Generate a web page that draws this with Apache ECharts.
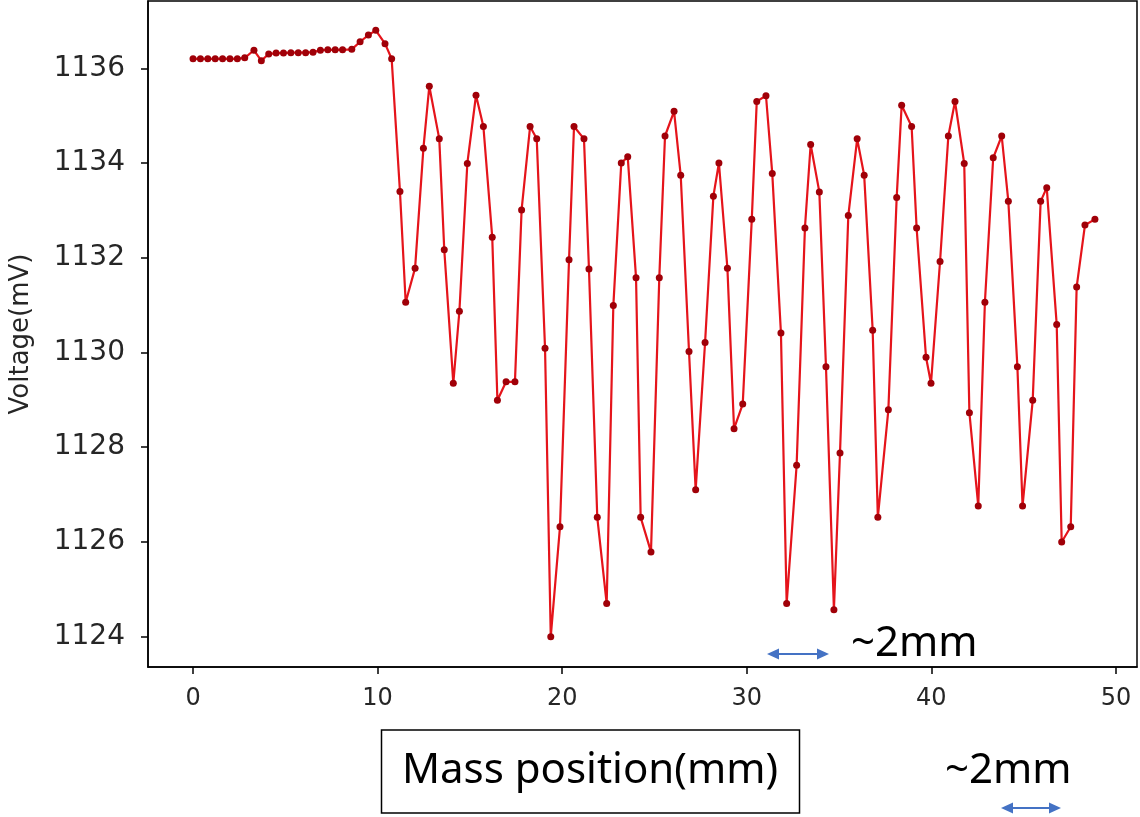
<!DOCTYPE html>
<html>
<head>
<meta charset="utf-8">
<script src="https://cdn.jsdelivr.net/npm/echarts@6/dist/echarts.min.js"></script>
<style>
html,body{margin:0;padding:0;background:#fff;}
#chart{width:1140px;height:817px;}
</style>
</head>
<body>
<div id="chart"></div>
<script>
// Mass position (mm)
const positions = [
  0.0, 0.4, 0.8, 1.2, 1.6, 2.0, 2.4, 2.8, 3.3, 3.7, 4.1, 4.5, 4.9, 5.3, 5.7, 6.1, 6.5, 6.9, 7.3, 7.7, 8.1, 8.6, 9.05, 9.5, 9.9, 10.4, 10.76,
  11.21, 11.52, 12.03, 12.48, 12.80, 13.34, 13.61, 14.10, 14.43, 14.86, 15.33, 15.73, 16.21, 16.49, 16.96, 17.44,
  17.80, 18.26, 18.62, 19.07, 19.38, 19.88, 20.37, 20.64, 21.18, 21.45, 21.90, 22.41, 22.77, 23.20, 23.55, 24.00,
  24.25, 24.81, 25.26, 25.57, 26.06, 26.42, 26.87, 27.23, 27.74, 28.19, 28.49, 28.95, 29.31, 29.78, 30.27, 30.54,
  31.04, 31.38, 31.85, 32.16, 32.70, 33.15, 33.46, 33.93, 34.29, 34.72, 35.05, 35.50, 35.98, 36.36, 36.82, 37.10,
  37.67, 38.12, 38.39, 38.93, 39.20, 39.71, 39.98, 40.47, 40.92, 41.28, 41.78, 42.06, 42.54, 42.90, 43.35, 43.81,
  44.17, 44.66, 44.94, 45.49, 45.92, 46.25, 46.79, 47.06, 47.55, 47.87, 48.32, 48.86
];
// Voltage (mV)
const voltages = [
  1136.2, 1136.2, 1136.2, 1136.2, 1136.2, 1136.2, 1136.2, 1136.22, 1136.38, 1136.16, 1136.3, 1136.32, 1136.32, 1136.33, 1136.33, 1136.33, 1136.34, 1136.38, 1136.39, 1136.39, 1136.39, 1136.4, 1136.56, 1136.7, 1136.8, 1136.52, 1136.2,
  1133.40, 1131.06, 1131.78, 1134.31, 1135.62, 1134.51, 1132.17, 1129.35, 1130.87, 1133.99, 1135.43, 1134.77, 1132.43, 1128.99, 1129.38, 1129.38,
  1133.01, 1134.77, 1134.51, 1130.09, 1124.00, 1126.32, 1131.96, 1134.77, 1134.51, 1131.76, 1126.52, 1124.70, 1130.99, 1134.00, 1134.13, 1131.58,
  1126.52, 1125.79, 1131.58, 1134.57, 1135.09, 1133.74, 1130.02, 1127.10, 1130.21, 1133.30, 1134.00, 1131.78, 1128.39, 1128.91, 1132.81, 1135.30,
  1135.42, 1133.78, 1130.41, 1124.70, 1127.62, 1132.63, 1134.39, 1133.39, 1129.70, 1124.57, 1127.88, 1132.89, 1134.51, 1133.74, 1130.47, 1126.52,
  1128.79, 1133.27, 1135.22, 1134.77, 1132.63, 1129.90, 1129.35, 1131.92, 1134.57, 1135.30, 1133.99, 1128.73, 1126.76, 1131.06, 1134.11, 1134.57,
  1133.19, 1129.70, 1126.76, 1128.99, 1133.19, 1133.48, 1130.59, 1126.00, 1126.32, 1131.38, 1132.69, 1132.81
];
const xTicks = [0, 10, 20, 30, 40, 50];
const yTicks = [1124, 1126, 1128, 1130, 1132, 1134, 1136];
const yAxisTitle = 'Voltage(mV)';
const xAxisTitle = 'Mass position(mm)';
const spanNote = '~2mm';

const seriesData = positions.map((x, i) => [x, voltages[i]]);

const chart = echarts.init(document.getElementById('chart'), null, {renderer: 'canvas'});
const tickFont = 'DejaVu Sans';
const noteFont = 'Noto Sans';
const blue = '#4472C4';

function arrow(x1, x2, y) {
  const h = 12, w = 5.5;
  return [
    {type: 'line', shape: {x1: x1 + 4, y1: y, x2: x2 - 4, y2: y}, style: {stroke: blue, lineWidth: 2}},
    {type: 'polygon', shape: {points: [[x1, y], [x1 + h, y - w], [x1 + h, y + w]]}, style: {fill: blue}},
    {type: 'polygon', shape: {points: [[x2, y], [x2 - h, y - w], [x2 - h, y + w]]}, style: {fill: blue}}
  ];
}

chart.setOption({
  animation: false,
  backgroundColor: '#fff',
  grid: {left: 148, top: 1, right: 3, bottom: 150, show: true, borderColor: '#000', borderWidth: 1.5, backgroundColor: 'transparent'},
  xAxis: {
    type: 'value', min: -2.44, max: 51.14,
    axisLine: {show: true, onZero: false, lineStyle: {color: '#000', width: 1.5}},
    axisTick: {show: true, inside: false, length: 7, lineStyle: {color: '#000', width: 1.5}, customValues: xTicks},
    axisLabel: {customValues: xTicks, formatter: v => String(v), color: '#262626', fontFamily: tickFont, fontSize: 24, margin: 20},
    splitLine: {show: false}
  },
  yAxis: {
    type: 'value', min: 1123.36, max: 1137.42,
    name: yAxisTitle, nameLocation: 'middle', nameRotate: 90, nameGap: 114,
    nameTextStyle: {color: '#262626', fontFamily: tickFont, fontSize: 26},
    axisLine: {show: true, onZero: false, lineStyle: {color: '#000', width: 1.5}},
    axisTick: {show: true, inside: false, length: 7, lineStyle: {color: '#000', width: 1.5}, customValues: yTicks},
    axisLabel: {customValues: yTicks, formatter: v => String(v), color: '#262626', fontFamily: tickFont, fontSize: 28, margin: 23},
    splitLine: {show: false}
  },
  series: [{
    type: 'line',
    data: seriesData,
    symbol: 'circle',
    symbolSize: 7,
    showAllSymbol: true,
    lineStyle: {color: '#e5141b', width: 2.2},
    itemStyle: {color: '#a00008'},
    z: 3
  }],
  graphic: [
    {type: 'rect', shape: {x: 381.5, y: 730, width: 418, height: 83}, style: {fill: '#fff', stroke: '#000', lineWidth: 1.5}},
    {type: 'text', x: 590, y: 771, style: {text: xAxisTitle, fontFamily: noteFont, fontSize: 42, fill: '#000', align: 'center', verticalAlign: 'middle'}},
    {type: 'text', x: 851, y: 644, style: {text: spanNote, fontFamily: noteFont, fontSize: 42, fill: '#000', align: 'left', verticalAlign: 'middle'}},
    {type: 'text', x: 945, y: 771, style: {text: spanNote, fontFamily: noteFont, fontSize: 42, fill: '#000', align: 'left', verticalAlign: 'middle'}},
    ...arrow(767, 829, 654),
    ...arrow(1001, 1061, 808)
  ]
});
</script>
</body>
</html>
